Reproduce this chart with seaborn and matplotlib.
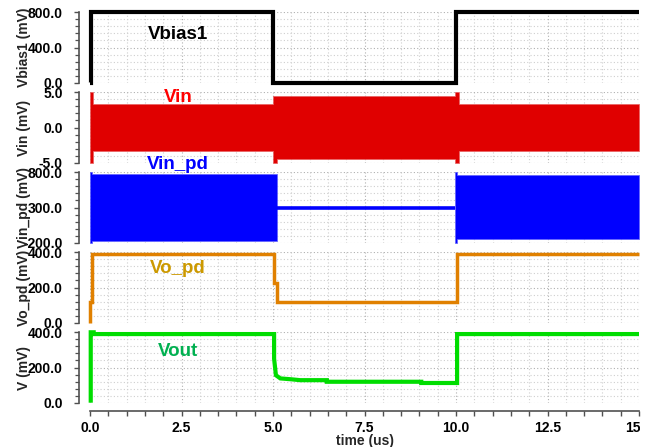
import matplotlib
matplotlib.use("Agg")
import matplotlib.pyplot as plt
import matplotlib.transforms as mtransforms
from matplotlib.ticker import FixedLocator, MultipleLocator, NullFormatter
import pandas as pd
import seaborn as sns

# ---- waveform data (time in us) ----
vbias_t = [0.0, 0.02, 0.02, 5.0, 5.0, 10.0, 10.0, 15.0]
vbias_mv = [0, 0, 800, 800, 0, 0, 800, 800]

# Vin is a fast oscillation: drawn as its upper / lower envelope
vin_t = [0.0, 0.09, 0.09, 5.0, 5.0, 5.1, 5.1, 9.97, 9.97, 10.08, 10.08, 15.0]
vin_hi = [5.0, 5.0, 3.3, 3.3, 4.5, 4.5, 4.5, 4.5, 5.0, 5.0, 3.3, 3.3]
vin_lo = [-5.0, -5.0, -3.3, -3.3, -5.0, -5.0, -4.5, -4.5, -5.0, -5.0, -3.3, -3.3]

vinpd_t = [0.0, 0.06, 0.06, 5.1, 5.1, 9.97, 9.97, 10.03, 10.03, 15.0]
vinpd_hi = [800, 800, 770, 770, 300, 300, 800, 800, 760, 760]
vinpd_lo = [-200, -200, -170, -170, 300, 300, -200, -200, -150, -150]
vinpd_idle_t = [5.1, 9.97]
vinpd_idle_mv = [300, 300]

vopd_t = [0.0, 0.0, 0.05, 0.05, 5.03, 5.03, 5.1, 5.1, 10.03, 10.03, 15.0]
vopd_mv = [0, 120, 120, 388, 388, 228, 228, 120, 120, 388, 388]

vout_t = [0.02, 0.02, 0.1, 0.1, 5.03, 5.03, 5.08, 5.2, 5.5, 5.74, 6.47, 6.47,
          9.05, 9.05, 10.03, 10.03, 15.0]
vout_mv = [0, 400, 400, 390, 390, 250, 156, 138, 133, 128, 128, 119,
           119, 112, 112, 390, 390]

x_ticks = [0.0, 2.5, 5.0, 7.5, 10.0, 12.5, 15.0]
x_ticklabels = ["0.0", "2.5", "5.0", "7.5", "10.0", "12.5", "15.0"]

panels = [
    dict(name="Vbias1", ylabel="Vbias1 (mV)", ylim=(0, 800), yticks=[0, 400, 800],
         yticklabels=["0.0", "400.0", "800.0"], minor=80,
         text_color="#000000", base_px=39),
    dict(name="Vin", ylabel="Vin (mV)", ylim=(-5, 5), yticks=[-5, 0, 5],
         yticklabels=["-5.0", "0.0", "5.0"], minor=1,
         text_color="#ff0000", base_px=101.5),
    dict(name="Vin_pd", ylabel="Vin_pd (mV)", ylim=(-200, 800), yticks=[-200, 300, 800],
         yticklabels=["-200.0", "300.0", "800.0"], minor=100,
         text_color="#0000ff", base_px=169),
    dict(name="Vo_pd", ylabel="Vo_pd (mV)", ylim=(0, 400), yticks=[0, 200, 400],
         yticklabels=["0.0", "200.0", "400.0"], minor=40,
         text_color="#cc9900", base_px=273),
    dict(name="Vout", ylabel="V (mV)", ylim=(0, 400), yticks=[0, 200, 400],
         yticklabels=["0.0", "200.0", "400.0"], minor=40,
         text_color="#00b050", base_px=356),
]

sns.set_style("white")
plt.rcParams["font.family"] = ["Liberation Sans", "DejaVu Sans"]
plt.rcParams["font.weight"] = "bold"

W, H = 652, 447
fig = plt.figure(figsize=(W / 100, H / 100), dpi=100)
fig.patch.set_facecolor("white")

left_px, right_px = 90, 639
panel_h = 70.4
axes = []
for i, p in enumerate(panels):
    top = 12.3 + 80 * i
    ax = fig.add_axes([left_px / W, 1 - (top + panel_h) / H,
                       (right_px - left_px) / W, panel_h / H])
    axes.append(ax)

ax1, ax2, ax3, ax4, ax5 = axes

line_kw = dict(estimator=None, sort=False, legend=False)

sns.lineplot(data=pd.DataFrame({"t": vbias_t, "v": vbias_mv}), x="t", y="v",
             ax=ax1, color="black", linewidth=3.0, **line_kw)

ax2.fill_between(vin_t, vin_lo, vin_hi, color="#e00000", linewidth=0.5,
                 edgecolor="#e86060", zorder=3)

ax3.fill_between(vinpd_t, vinpd_lo, vinpd_hi, color="#0000ff", linewidth=0.5,
                 edgecolor="#6060ff", zorder=3)
sns.lineplot(data=pd.DataFrame({"t": vinpd_idle_t, "v": vinpd_idle_mv}), x="t", y="v",
             ax=ax3, color="#0000ff", linewidth=2.6, **line_kw)

sns.lineplot(data=pd.DataFrame({"t": vopd_t, "v": vopd_mv}), x="t", y="v",
             ax=ax4, color="#e08000", linewidth=2.5, **line_kw)

sns.lineplot(data=pd.DataFrame({"t": vout_t, "v": vout_mv}), x="t", y="v",
             ax=ax5, color="#00dd00", linewidth=3.0, **line_kw)

for i, (ax, p) in enumerate(zip(axes, panels)):
    top = 12.3 + 80 * i
    ax.set_xlim(0, 15)
    ax.set_ylim(*p["ylim"])
    ax.xaxis.set_major_locator(FixedLocator(x_ticks))
    ax.xaxis.set_minor_locator(MultipleLocator(0.5))
    ax.yaxis.set_major_locator(FixedLocator(p["yticks"]))
    ax.set_yticklabels(p["yticklabels"])
    ax.yaxis.set_minor_locator(MultipleLocator(p["minor"]))
    ax.yaxis.set_minor_formatter(NullFormatter())
    ax.grid(which="major", color="#b0b0b0", linestyle=(0, (1, 2)), linewidth=0.8)
    ax.grid(which="minor", color="#cfcfcf", linestyle=(0, (1, 2)), linewidth=0.8)
    ax.set_axisbelow(True)
    for s in ("top", "right", "bottom"):
        ax.spines[s].set_visible(False)
    ax.spines["left"].set_position(("outward", 8))
    ax.spines["left"].set_color("#505050")
    ax.spines["left"].set_linewidth(1.2)
    ax.tick_params(axis="y", which="major", left=True, direction="out", length=3.6,
                   width=1.0, color="#505050", pad=8, labelsize=10, labelcolor="black")
    ax.tick_params(axis="y", which="minor", left=True, direction="out", length=2.6,
                   width=0.9, color="#505050")
    ax.tick_params(axis="x", which="both", bottom=False, length=0, labelbottom=False)
    for ln in ax.lines:
        ln.set_clip_on(False)
        ln.set_solid_capstyle("butt")
        ln.set_solid_joinstyle("miter")
        ln.set_zorder(4)
    ax.set_xlabel("")
    ax.set_ylabel(p["ylabel"], fontsize=10, fontweight="bold")
    ax.yaxis.set_label_coords(-0.107, 0.5)
    ax.text((178 - left_px) / (right_px - left_px),
            (top + panel_h - p["base_px"]) / panel_h,
            p["name"], transform=ax.transAxes, ha="center", va="baseline",
            fontsize=13.5, fontweight="bold", color=p["text_color"], zorder=10,
            clip_on=False)

# time axis on the bottom panel only
ax5.spines["bottom"].set_visible(True)
ax5.spines["bottom"].set_position(("outward", 6))
ax5.spines["bottom"].set_color("#505050")
ax5.spines["bottom"].set_linewidth(1.2)
ax5.set_xticklabels(x_ticklabels)
ax5.tick_params(axis="x", which="both", bottom=True, direction="out", length=3.6,
                width=1.0, color="#505050", labelbottom=True, pad=3.5, labelsize=10,
                labelcolor="black")
ax5.set_xlabel("time (us)", fontsize=10, fontweight="bold", labelpad=-1.0)

fig.canvas.draw()
clip = mtransforms.TransformedBbox(
    mtransforms.Bbox.from_extents(0, 0, 640 / W, 1), fig.transFigure)
for lab in ax5.get_xticklabels():
    lab.set_clip_box(clip)
    lab.set_clip_on(True)

fig.savefig("out.png", dpi=100, facecolor="white")
